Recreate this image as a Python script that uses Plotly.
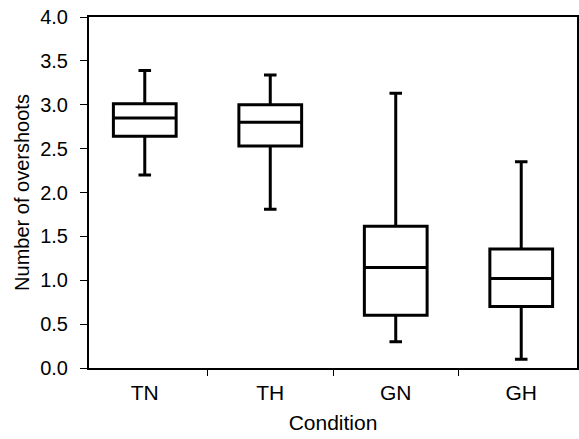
import plotly.graph_objects as go

categories = ["TN", "TH", "GN", "GH"]
q1 = [2.64, 2.53, 0.60, 0.70]
median = [2.85, 2.80, 1.145, 1.02]
q3 = [3.01, 3.00, 1.615, 1.357]
lower = [2.20, 1.81, 0.30, 0.10]
upper = [3.39, 3.34, 3.13, 2.35]

y_ticks = [0, 0.5, 1.0, 1.5, 2.0, 2.5, 3.0, 3.5, 4.0]

fig = go.Figure()
fig.add_trace(go.Box(
    x=categories, q1=q1, median=median, q3=q3,
    lowerfence=lower, upperfence=upper,
    fillcolor="white",
    line=dict(color="black", width=3),
    whiskerwidth=0.2,
    width=0.5,
    boxpoints=False,
    showlegend=False,
    hoverinfo="skip",
))

font = "Liberation Sans, Arial, sans-serif"
fig.update_layout(
    width=579, height=439,
    margin=dict(l=89, r=2, t=17, b=71),
    paper_bgcolor="white", plot_bgcolor="white",
    font=dict(family=font, size=20, color="black"),
    xaxis=dict(
        type="category", automargin=False,
        title=dict(text="Condition", font=dict(size=21), standoff=12),
        showline=True, linecolor="black", linewidth=2, mirror=True,
        ticks="outside", tickson="boundaries", ticklen=6, tickwidth=1,
        tickcolor="black", showgrid=False,
        tickfont=dict(size=21),
        ticklabelstandoff=5,
    ),
    yaxis=dict(
        range=[0, 4], tickvals=y_ticks, tickformat=".1f", automargin=False,
        title=dict(text="Number of overshoots", font=dict(size=20), standoff=5),
        showline=True, linecolor="black", linewidth=2, mirror=True,
        ticks="outside", ticklen=7, tickwidth=1, tickcolor="black",
        showgrid=False, zeroline=False,
        tickfont=dict(size=20),
        ticklabelstandoff=8,
        ticklabeloverflow="allow",
    ),
)

fig.write_html(
    "out.html",
    config={"displayModeBar": False},
    post_script="document.body.style.margin='0'; document.body.style.overflow='hidden';",
)
